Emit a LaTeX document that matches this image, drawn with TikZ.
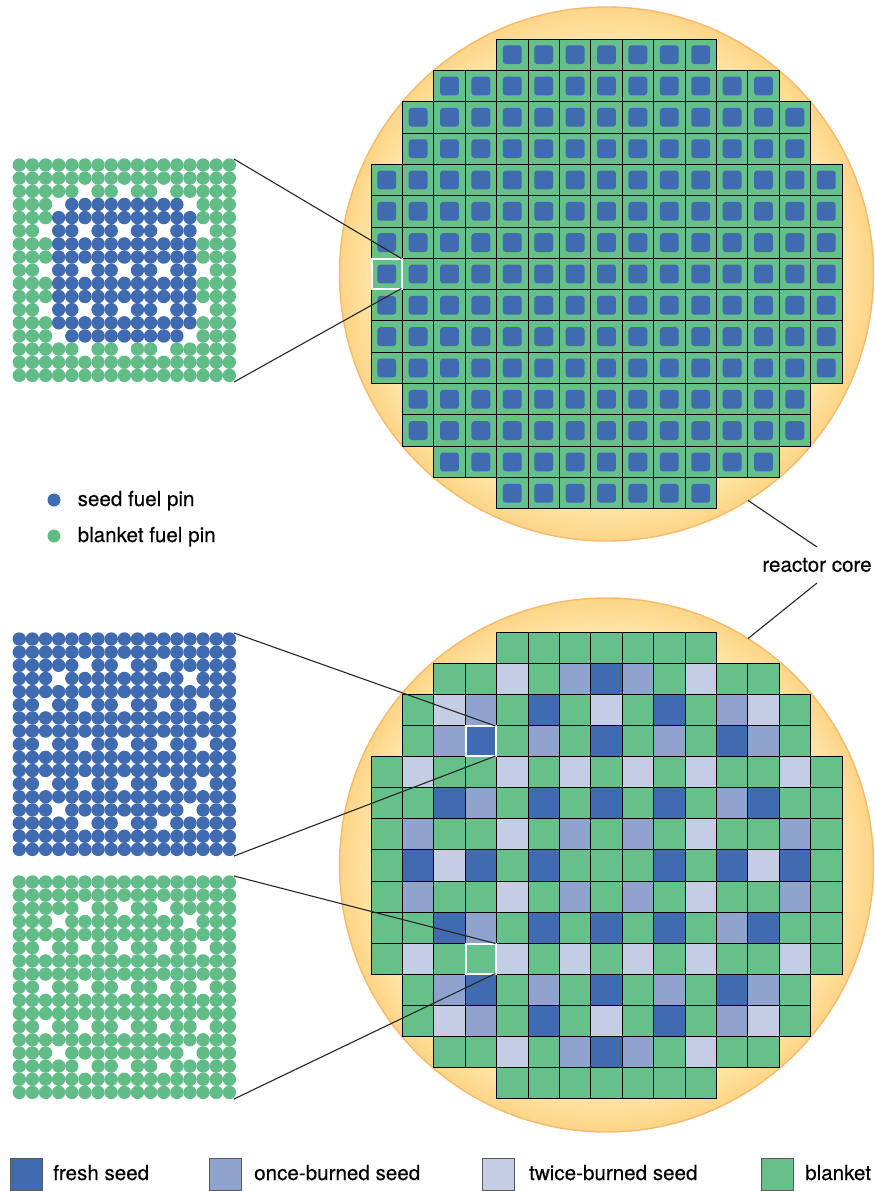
\documentclass[tikz,border=0pt]{standalone}
\usepackage{fontspec}
\setmainfont{TeX Gyre Heros}[FakeBold=0.25]
\usepackage{xcolor}
\usepackage{tikz}
\usetikzlibrary{positioning}
\definecolor{blanketgreen}{HTML}{66c08a}
\definecolor{pingreen}{HTML}{62bc87}
\definecolor{freshblue}{HTML}{416bb0}
\definecolor{onceblue}{HTML}{8ea3ce}
\definecolor{twiceblue}{HTML}{c5cde4}
\definecolor{corepale}{HTML}{fff0bc}
\definecolor{coreedge}{HTML}{fdd587}
\definecolor{corerim}{HTML}{f8b96c}
\tikzset{
  corecircle/.style={circle, minimum size=534pt, inner sep=0pt, outer sep=0pt, draw=corerim, line width=1.4pt},
  corecell/.style={draw=black, line width=0.95pt},
  pickedcell/.style={draw=white, line width=2pt, minimum width=30pt, minimum height=30pt, inner sep=0pt, outer sep=0pt},
  pinmapbox/.style={minimum width=222pt, minimum height=223pt, inner sep=0pt, outer sep=0pt},
  calloutline/.style={draw=black!85, line width=1.1pt},
  keybox/.style={draw=black!65, line width=1pt, minimum size=32pt, inner sep=0pt, outer sep=0pt},
  keytext/.style={font=\fontsize{20.6}{24}\selectfont, inner sep=0pt, text height=16pt, text depth=4pt},
  pinkey/.style={circle, minimum size=13pt, inner sep=0pt, outer sep=0pt}
}
% row/first column/last column of the assemblies in a core
\newcommand{\coreoutline}{0/4/10,1/2/12,2/1/13,3/1/13,4/0/14,5/0/14,6/0/14,7/0/14,8/0/14,9/0/14,10/0/14,11/1/13,12/1/13,13/2/12,14/4/10}
% glow of a core: rings from the rim inwards
\newcommand{\coreglow}[2]{%
  \foreach \k in {0,...,32} {
    \pgfmathtruncatemacro{\mix}{100-3*\k}
    \fill[coreedge!\mix!corepale] (#1,#2) circle ({267-1.6*\k});
  }}
% black lines of a core, drawn over the fills
\newcommand{\corelines}{%
  \foreach \r/\a/\b in \coreoutline {
    \foreach \c in {\a,...,\b} {\draw[corecell] (\c,\r) rectangle ++(1,1);}
  }}
% one map of 17x17 pins: top left pin x, y, outer colour, colour of the inner 11x11
\newcommand{\pinmap}[4]{%
  \begin{scope}[shift={(#1,#2)}, x=13.13pt, y=-13.15pt]
    \foreach \r/\cols in {0/{0,...,16},1/{0,...,16},2/{0,1,2,3,4,6,7,9,10,12,13,14,15,16},
        3/{0,1,2,4,5,6,7,8,9,10,11,12,14,15,16},4/{0,...,16},5/{0,1,3,4,6,7,9,10,12,13,15,16},
        6/{0,...,16},7/{0,...,16},8/{0,1,3,4,6,7,9,10,12,13,15,16},9/{0,...,16},10/{0,...,16},
        11/{0,1,3,4,6,7,9,10,12,13,15,16},12/{0,...,16},13/{0,1,2,4,5,6,7,8,9,10,11,12,14,15,16},
        14/{0,1,2,3,4,6,7,9,10,12,13,14,15,16},15/{0,...,16},16/{0,...,16}} {
      \foreach \c in \cols {
        \pgfmathtruncatemacro{\inner}{and(and(\r>2,\r<14),and(\c>2,\c<14))}
        \ifnum\inner=1 \def\pincol{#4}\else\def\pincol{#3}\fi
        \fill[\pincol] (\c,\r) circle (6.7pt);
      }
    }
  \end{scope}}
\begin{document}
\begin{tikzpicture}[x=1pt, y=-1pt]
  \useasboundingbox (0,0) rectangle (875,1191);
  % the two core circles
  \coreglow{606.5}{274}
  \coreglow{606.5}{865}
  \node[corecircle] (coreA) at (606.5,274) {};
  \node[corecircle] (coreB) at (606.5,865) {};
  % upper core: blanket with a seed square in each assembly
  \begin{scope}[shift={(371,39)}, x=31.4pt, y=-31.33pt]
    \foreach \r/\a/\b in \coreoutline {
      \foreach \c in {\a,...,\b} {
        \fill[blanketgreen] (\c,\r) rectangle ++(1,1);
        \fill[freshblue, rounded corners=3pt] (\c+0.2,\r+0.2) rectangle ++(0.6,0.6);
      }
    }
    \corelines
  \end{scope}
  % lower core: all blanket, then the three seed batches
  \begin{scope}[shift={(371,632)}, x=31.4pt, y=-31.13pt]
    \foreach \r/\a/\b in \coreoutline {
      \foreach \c in {\a,...,\b} {\fill[blanketgreen] (\c,\r) rectangle ++(1,1);}
    }
    \foreach \r/\cols in {1/{7},2/{5,9},3/{3,7,11},5/{2,5,7,9,12},7/{1,3,5,9,11,13},9/{2,5,7,9,12},11/{3,7,11},12/{5,9},13/{7}} {
      \foreach \c in \cols {\fill[freshblue] (\c,\r) rectangle ++(1,1);}
    }
    \foreach \r/\cols in {1/{6,8},2/{3,11},3/{2,5,9,12},5/{3,11},6/{1,6,8,13},8/{1,6,8,13},9/{3,11},11/{2,5,9,12},12/{3,11},13/{6,8}} {
      \foreach \c in \cols {\fill[onceblue] (\c,\r) rectangle ++(1,1);}
    }
    \foreach \r/\cols in {1/{4,10},2/{2,7,12},4/{1,4,6,8,10,13},6/{4,10},7/{2,12},8/{4,10},10/{1,4,6,8,10,13},12/{2,7,12},13/{4,10}} {
      \foreach \c in \cols {\fill[twiceblue] (\c,\r) rectangle ++(1,1);}
    }
    \corelines
  \end{scope}
  % pin maps
  \pinmap{19.3}{165}{pingreen}{freshblue}
  \pinmap{19.3}{639}{freshblue}{freshblue}
  \pinmap{19.3}{882}{pingreen}{pingreen}
  \node[pinmapbox] (mapA) at (123,270.5) {};
  \node[pinmapbox] (mapB) at (123,744.5) {};
  \node[pinmapbox] (mapC) at (123,987.5) {};
  % picked assemblies and their call-outs
  \node[pickedcell] (pickA) at (386.5,273.5) {};
  \node[pickedcell] (pickB) at (480.5,741) {};
  \node[pickedcell] (pickC) at (480.5,958.5) {};
  \draw[calloutline] (mapA.north east) -- (pickA.north east);
  \draw[calloutline] (mapA.south east) -- (pickA.south east);
  \draw[calloutline] (mapB.north east) -- (pickB.north east);
  \draw[calloutline] (mapB.south east) -- (pickB.south east);
  \draw[calloutline] (mapC.north east) -- (pickC.north east);
  \draw[calloutline] (mapC.south east) -- (pickC.south east);
  % reactor core label
  \node[font=\fontsize{20.6}{24}\selectfont, inner sep=0pt, outer sep=0pt, minimum height=36pt] (corelabel) at (817,565) {reactor core};
  \draw[calloutline] (coreA.-58) -- (corelabel.north);
  \draw[calloutline] (coreB.58) -- (corelabel.south);
  % pin key
  \node[pinkey, fill=freshblue] (seedpin) at (54,500) {};
  \node[pinkey, fill=pingreen] (blanketpin) at (54,536) {};
  \node[keytext, right=17pt of seedpin] (seedtext) {seed fuel pin};
  \node[keytext, right=17pt of blanketpin] (blankettext) {blanket fuel pin};
  % batch key
  \node[keybox, fill=freshblue] (freshkey) at (26,1174) {};
  \node[keybox, fill=onceblue] (oncekey) at (225,1174) {};
  \node[keybox, fill=twiceblue] (twicekey) at (498,1174) {};
  \node[keybox, fill=blanketgreen] (blanketkey) at (777,1174) {};
  \node[keytext, right=11pt of freshkey] (freshtext) {fresh seed};
  \node[keytext, right=13pt of oncekey] (oncetext) {once-burned seed};
  \node[keytext, right=15pt of twicekey] (twicetext) {twice-burned seed};
  \node[keytext, right=12pt of blanketkey] (blankettype) {blanket};
\end{tikzpicture}
\end{document}
